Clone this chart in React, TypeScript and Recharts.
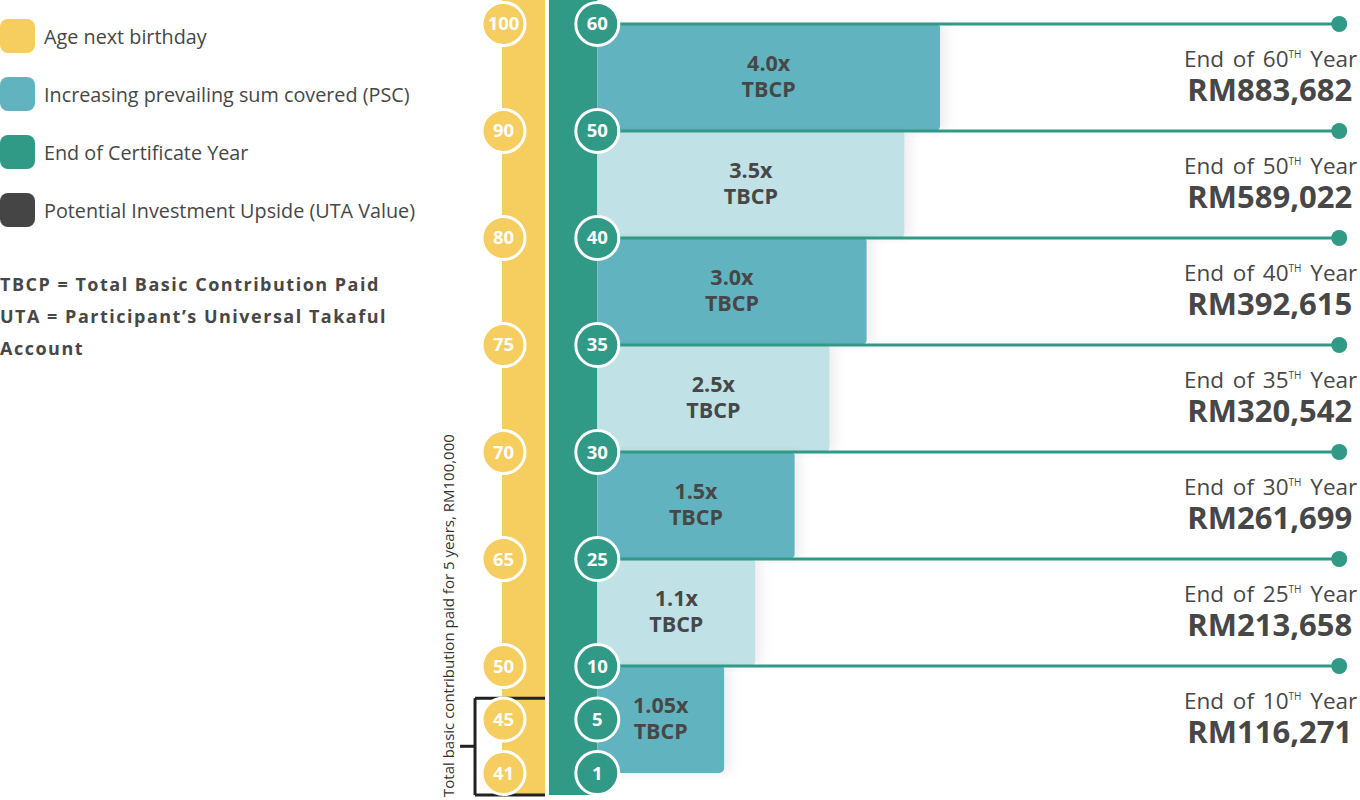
import {
  ComposedChart,
  Bar,
  Scatter,
  XAxis,
  YAxis,
  ReferenceLine,
  ReferenceArea,
  LabelList,
  Cell,
  Rectangle,
} from "recharts"

// timeline markers (top -> bottom)
const timelineSteps = [0, 1, 2, 3, 4, 5, 6, 6.5, 7]
const ageNextBirthday = [100, 90, 80, 75, 70, 65, 50, 45, 41]
const certificateYears = [60, 50, 40, 35, 30, 25, 10, 5, 1]

// PSC bands between milestones
const bandMultiples = ["4.0x", "3.5x", "3.0x", "2.5x", "1.5x", "1.1x", "1.05x"]
const bandLengths = [46.2, 41.4, 36.3, 31.3, 26.6, 21.3, 17.1]

// UTA value at the end of each milestone year
const milestoneYears = [60, 50, 40, 35, 30, 25, 10]
const utaValues = [883682, 589022, 392615, 320542, 261699, 213658, 116271]

const legendItems = [
  { label: "Age next birthday", color: "#f6cd5f" },
  { label: "Increasing prevailing sum covered (PSC)", color: "#62b3c0" },
  { label: "End of Certificate Year", color: "#319a86" },
  { label: "Potential Investment Upside (UTA Value)", color: "#454545" },
]

const YELLOW = "#f6cd5f"
const GREEN = "#319a86"
const BAR_COLORS = ["#62b3c0", "#c0e1e5"]
const TEXT = "#474747"
const FONT = "'Open Sans', sans-serif"

const X_DOMAIN = [-21.2, 102.8]
const Y_DOMAIN = [-0.224, 7.252]
const LINE_END = 100
const AGE_X = -12.64
const COL_BOTTOM = 7.206

const bandData = bandMultiples.map((m, i) => ({ step: i + 0.5, len: bandLengths[i], label: m }))
const ageData = ageNextBirthday.map((a, i) => ({ step: timelineSteps[i], x: AGE_X, value: a }))
const yearData = certificateYears.map((y, i) => ({ step: timelineSteps[i], x: 0, value: y }))
const endData = milestoneYears.map((y, i) => ({ step: i, x: LINE_END, year: y, amount: utaValues[i] }))

const fmt = (n: number) => "RM" + n.toLocaleString("en-US")

function MarkerCircle(fill: string) {
  return (props: any) => {
    const { cx, cy, payload } = props
    return (
      <g>
        <circle cx={cx} cy={cy} r={21.5} fill={fill} stroke="#fff" strokeWidth={3} />
        <text
          x={cx}
          y={cy + 6.5}
          textAnchor="middle"
          fill="#fff"
          fontSize={18.5}
          fontWeight={700}
          fontFamily={FONT}
        >
          {payload.value}
        </text>
      </g>
    )
  }
}

function EndMarker(props: any) {
  const { cx, cy, payload } = props
  return (
    <g>
      <circle cx={cx} cy={cy} r={8} fill={GREEN} />
      <text
        x={cx + 18}
        y={cy + 43}
        textAnchor="end"
        fill={TEXT}
        fontSize={22.5}
        fontFamily={FONT}
        style={{ wordSpacing: 3 }}
      >
        <tspan>End of {payload.year}</tspan>
        <tspan fontSize={10} dy={-9}>TH</tspan>
        <tspan dy={9}> Year</tspan>
      </text>
      <text
        x={cx + 13}
        y={cy + 77}
        textAnchor="end"
        fill={TEXT}
        fontSize={31}
        fontWeight={700}
        fontFamily={FONT}
      >
        {fmt(payload.amount)}
      </text>
    </g>
  )
}

function BandLabel(props: any) {
  const { x, y, width, height, value } = props
  const cx = x + width / 2
  const cy = y + height / 2
  return (
    <text textAnchor="middle" fill={TEXT} fontSize={21.5} fontWeight={700} fontFamily={FONT}>
      <tspan x={cx} y={cy - 7}>{value}</tspan>
      <tspan x={cx} y={cy + 19}>TBCP</tspan>
    </text>
  )
}

export default function App() {
  return (
    <div style={{ position: "relative", width: 1360, height: 800, fontFamily: FONT, background: "#fff" }}>
      <style>{`body{margin:0}`}</style>

      {/* Legend */}
      <div style={{ position: "absolute", left: 0, top: 19 }}>
        {legendItems.map((item) => (
          <div key={item.label} style={{ display: "flex", alignItems: "center", height: 34, marginBottom: 24 }}>
            <div style={{ width: 35, height: 34, borderRadius: 8, background: item.color }} />
            <span style={{ marginLeft: 9, fontSize: 19.8, color: TEXT }}>{item.label}</span>
          </div>
        ))}
      </div>
      <div
        style={{
          position: "absolute",
          left: 0,
          top: 268,
          fontSize: 18,
          fontWeight: 700,
          color: TEXT,
          lineHeight: "32px",
          letterSpacing: 1.5,
        }}
      >
        TBCP = Total Basic Contribution Paid
        <br />
        UTA = Participant’s Universal Takaful
        <br />
        Account
      </div>

      <ComposedChart
        width={1360}
        height={800}
        data={bandData}
        layout="vertical"
        margin={{ top: 0, right: 0, bottom: 0, left: 440 }}
        style={{ position: "absolute", left: 0, top: 0 }}
      >
        <defs>
          <filter id="barShadow" x="-5%" y="-5%" width="120%" height="110%">
            <feDropShadow dx={6} dy={0} stdDeviation={6} floodColor="#000" floodOpacity={0.07} />
          </filter>
        </defs>
        <XAxis type="number" domain={X_DOMAIN} allowDataOverflow hide />
        <YAxis type="number" dataKey="step" domain={Y_DOMAIN} allowDataOverflow hide />
        <YAxis yAxisId="m" type="number" dataKey="step" domain={Y_DOMAIN} allowDataOverflow hide />

        <ReferenceArea x1={-12.85} x2={-7.05} y1={Y_DOMAIN[0]} y2={COL_BOTTOM} fill={YELLOW} fillOpacity={1} ifOverflow="hidden" />
        <ReferenceArea x1={-6.51} x2={0} y1={Y_DOMAIN[0]} y2={COL_BOTTOM} fill={GREEN} fillOpacity={1} ifOverflow="hidden" />

        <Bar
          dataKey="len"
          barSize={106}
          isAnimationActive={false}
          radius={[0, 2, 5, 0]}
          shape={(p: any) => <Rectangle {...p} filter="url(#barShadow)" />}
        >
          {bandData.map((_, i) => (
            <Cell key={i} fill={BAR_COLORS[i % 2]} />
          ))}
          <LabelList dataKey="label" content={BandLabel} />
        </Bar>

        {milestoneYears.map((_, i) => (
          <ReferenceLine
            key={i}
            segment={[
              { x: 0, y: timelineSteps[i] },
              { x: LINE_END, y: timelineSteps[i] },
            ]}
            stroke={GREEN}
            strokeWidth={3}
          />
        ))}

        {/* bracket for the 5 paying years */}
        <ReferenceLine segment={[{ x: -16.48, y: 6.3 }, { x: -16.48, y: COL_BOTTOM }]} stroke="#222" strokeWidth={3} />
        <ReferenceLine segment={[{ x: -16.48, y: 6.3 }, { x: -7.05, y: 6.3 }]} stroke="#222" strokeWidth={3} />
        <ReferenceLine segment={[{ x: -16.48, y: COL_BOTTOM }, { x: -7.05, y: COL_BOTTOM }]} stroke="#222" strokeWidth={3} />
        <ReferenceLine segment={[{ x: -18.5, y: 6.75 }, { x: -16.48, y: 6.75 }]} stroke="#222" strokeWidth={3} />

        <Scatter yAxisId="m" data={ageData} dataKey="x" isAnimationActive={false} shape={MarkerCircle(YELLOW)} />
        <Scatter yAxisId="m" data={yearData} dataKey="x" isAnimationActive={false} shape={MarkerCircle(GREEN)} />
        <Scatter yAxisId="m" data={endData} dataKey="x" isAnimationActive={false} shape={EndMarker} />
      </ComposedChart>

      <div
        style={{
          position: "absolute",
          left: 440,
          top: 797,
          transform: "rotate(-90deg)",
          transformOrigin: "0 0",
          whiteSpace: "nowrap",
          fontSize: 15,
          color: "#333",
          lineHeight: "17px",
        }}
      >
        Total basic contribution paid for 5 years, RM100,000
      </div>
    </div>
  )
}
